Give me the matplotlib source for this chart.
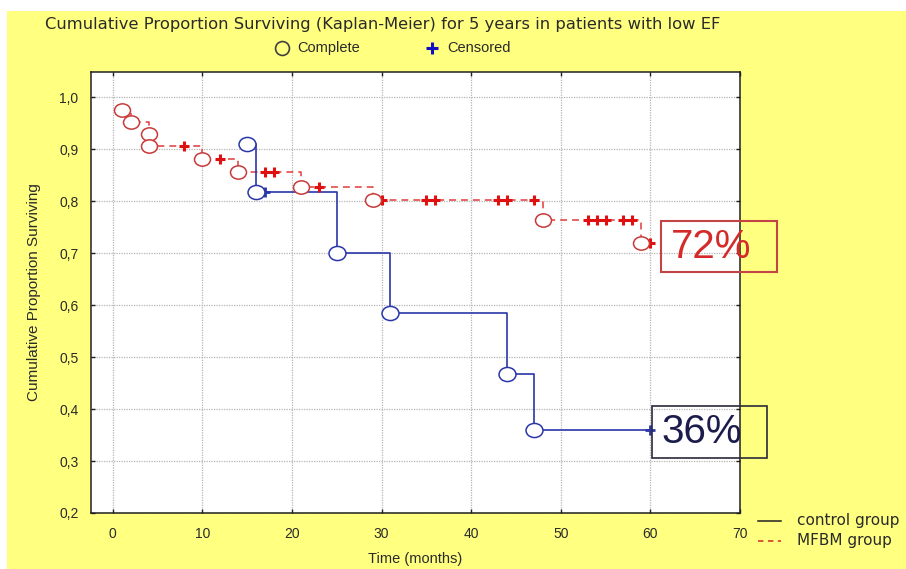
import numpy as np
import matplotlib
matplotlib.use("Agg")
import matplotlib.pyplot as plt
from matplotlib.lines import Line2D
from matplotlib.patches import Rectangle
from matplotlib.path import Path

# MFBM group: months of each death and survival estimate just after it
mfbm_event_t = [1, 2, 4, 4, 10, 14, 21, 29, 48, 59]
mfbm_surv = [0.976, 0.952, 0.930, 0.907, 0.881, 0.856, 0.827, 0.802, 0.764, 0.72]
mfbm_censor_t = [8, 12, 17, 18, 23, 30, 35, 36, 43, 44, 47, 53, 54, 55, 57, 58, 60]

# Control group
control_event_t = [15, 16, 25, 31, 44, 47]
control_surv = [0.909, 0.818, 0.70, 0.584, 0.467, 0.36]
control_censor_t = [17, 60]

x_ticks = [0, 10, 20, 30, 40, 50, 60, 70]
x_tick_labels = ["0", "10", "20", "30", "40", "50", "60", "70"]
y_ticks = [0.2, 0.3, 0.4, 0.5, 0.6, 0.7, 0.8, 0.9, 1.0]
y_tick_labels = ["0,2", "0,3", "0,4", "0,5", "0,6", "0,7", "0,8", "0,9", "1,0"]

FONT = "Liberation Sans"
WIDE = "DejaVu Sans"
YELLOW = "#FFFF80"
RED_LINE = "#E03A3A"
RED_MARK = "#C83A3A"
RED_CROSS = "#E01010"
BLUE = "#2A36A8"
TXT = "#2A2A2A"

W, H = 906, 569
fig = plt.figure(figsize=(W / 100, H / 100), dpi=100)
fig.patch.set_facecolor("white")
fig.add_artist(Rectangle((7 / W, 0), 1, (H - 10.5) / H, transform=fig.transFigure,
                         facecolor=YELLOW, edgecolor="none", zorder=-10))

ax = fig.add_axes([91 / W, (H - 513) / H, 649 / W, 441.3 / H])
ax.set_facecolor("white")
ax.set_xlim(-2.42, 70)
ax.set_ylim(0.2, 1.049)

ax.set_xticks(x_ticks)
ax.set_xticklabels(x_tick_labels)
ax.set_yticks(y_ticks)
ax.set_yticklabels(y_tick_labels)
ax.grid(True, color="#B5B5B5", linestyle=(0, (1, 1)), linewidth=0.9)
ax.tick_params(direction="in", length=3, width=1, top=True, right=True,
               colors="#202020", labelcolor=TXT, labelsize=10)
ax.tick_params(axis="y", pad=9)
ax.tick_params(axis="x", pad=10)
for lab in ax.get_xticklabels() + ax.get_yticklabels():
    lab.set_fontfamily(FONT)
for sp in ax.spines.values():
    sp.set_color("#202020")
    sp.set_linewidth(1.1)

# slightly wide open ellipse used for the event markers
circ = Path.unit_circle()
ellipse = Path(circ.vertices * np.array([1.2, 1.0]), circ.codes)


def surv_at(event_t, surv, t):
    idx = np.searchsorted(np.asarray(event_t), np.asarray(t), side="right") - 1
    return np.asarray(surv)[idx]


# MFBM group (dashed red)
mx = mfbm_event_t + [max(mfbm_censor_t)]
my = mfbm_surv + [mfbm_surv[-1]]
ax.plot(mx, my, drawstyle="steps-post", color=RED_LINE, lw=1.1,
        dashes=(4.5, 3.3), zorder=3)
ax.plot(mfbm_censor_t, surv_at(mfbm_event_t, mfbm_surv, mfbm_censor_t),
        linestyle="none", marker="+", ms=7.5, mew=2.2, color=RED_CROSS, zorder=4)
ax.plot(mfbm_event_t, mfbm_surv, linestyle="none", marker=ellipse, ms=11.5,
        mfc="white", mec=RED_MARK, mew=1.1, zorder=5)

# Control group (solid blue)
cx = control_event_t + [max(control_censor_t)]
cy = control_surv + [control_surv[-1]]
ax.plot(cx, cy, drawstyle="steps-post", color=BLUE, lw=1.2, zorder=3)
ax.plot(control_censor_t, surv_at(control_event_t, control_surv, control_censor_t),
        linestyle="none", marker="+", ms=7.5, mew=2.0, color=BLUE, zorder=4)
ax.plot(control_event_t, control_surv, linestyle="none", marker=ellipse, ms=12.2,
        mfc="white", mec=BLUE, mew=1.1, zorder=5)

# five-year survival call-outs
ax.add_patch(Rectangle((0.8778, 0.5454), 0.1788, 0.1170, transform=ax.transAxes,
                       fill=False, edgecolor="#C24545", lw=1.5, clip_on=False, zorder=6))
ax.text(0.956, 0.602, f"{mfbm_surv[-1]:.0%}", transform=ax.transAxes, ha="center",
        va="center", fontsize=29, color="#D42A2A", family=FONT, clip_on=False, zorder=7)
ax.add_patch(Rectangle((0.8649, 0.1240), 0.1762, 0.1192, transform=ax.transAxes,
                       fill=False, edgecolor="#2A2A3A", lw=1.2, clip_on=False, zorder=6))
ax.text(0.941, 0.1835, f"{control_surv[-1]:.0%}", transform=ax.transAxes, ha="center",
        va="center", fontsize=29, color="#1C1C4C", family=FONT, clip_on=False, zorder=7)

ax.set_xlabel("Time (months)", fontsize=10.5, family=FONT, color=TXT, labelpad=8)
ax.set_ylabel("Cumulative Proportion Surviving", fontsize=11, family=FONT,
              color=TXT, labelpad=13)

# title and marker key at the top
fig.text(45 / W, 1 - 25 / H, "Cumulative Proportion Surviving (Kaplan-Meier) for 5 years in patients with low EF",
         ha="left", va="center", fontsize=11.8, family=WIDE, color=TXT)
fig.add_artist(Line2D([282 / W], [1 - 48 / H], transform=fig.transFigure, marker="o",
                      ms=10, mfc="none", mec="#404040", mew=1.2, linestyle="none"))
fig.text(297 / W, 1 - 48 / H, "Complete", ha="left", va="center", fontsize=10.5,
         family=FONT, color=TXT)
fig.add_artist(Line2D([432 / W], [1 - 48 / H], transform=fig.transFigure, marker="+",
                      ms=8, mew=2.2, color="#1010C0", linestyle="none"))
fig.text(447 / W, 1 - 48 / H, "Censored", ha="left", va="center", fontsize=10.5,
         family=FONT, color=TXT)

# group key at the bottom right
fig.add_artist(Line2D([758 / W, 781 / W], [1 - 521 / H] * 2, transform=fig.transFigure,
                      color="#202020", lw=1.1))
fig.text(797 / W, 1 - 521 / H, "control group", ha="left", va="center", fontsize=11,
         family=WIDE, color=TXT)
fig.add_artist(Line2D([758 / W, 781 / W], [1 - 541 / H] * 2, transform=fig.transFigure,
                      color="#D84A30", lw=1.3, dashes=(3, 2.5)))
fig.text(797 / W, 1 - 541 / H, "MFBM group", ha="left", va="center", fontsize=11,
         family=WIDE, color=TXT)

fig.savefig("out.png", dpi=100, facecolor=fig.get_facecolor())
